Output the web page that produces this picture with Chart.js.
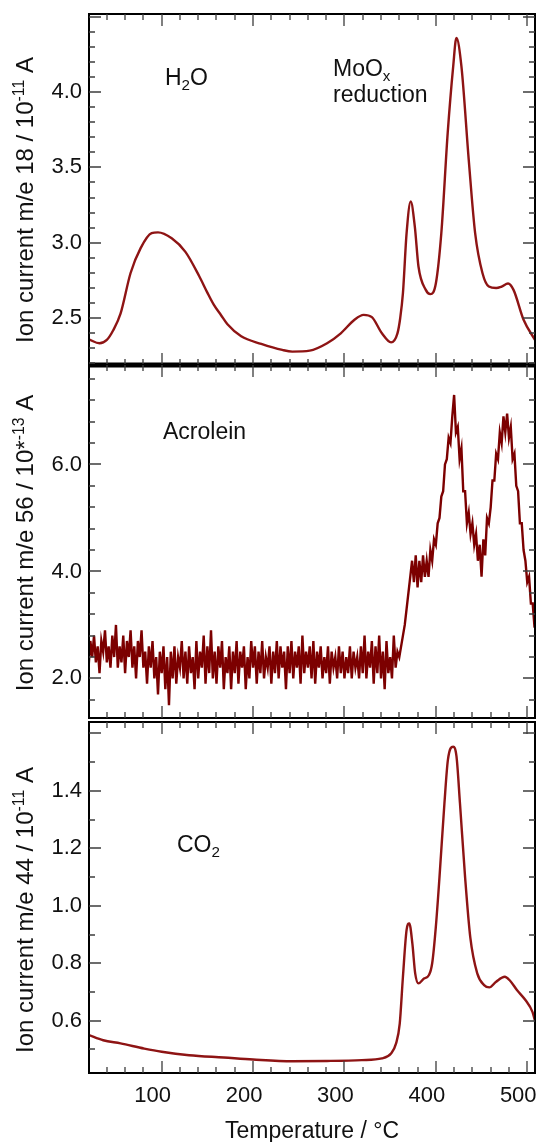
<!DOCTYPE html>
<html>
<head>
<meta charset="utf-8">
<script src="https://cdn.jsdelivr.net/npm/chart.js@4"></script>
<style>
  html, body { margin: 0; padding: 0; background: #fff; }
  #wrap { position: relative; width: 541px; height: 1142px; }
  canvas { position: absolute; left: 0; top: 0; }
</style>
</head>
<body>
<div id="wrap">
  <canvas id="c1" width="541" height="1142"></canvas>
  <canvas id="c2" width="541" height="1142"></canvas>
  <canvas id="c3" width="541" height="1142"></canvas>
</div>
<script>
// m/e 18 (H2O)
const h2oTemp = [20.5, 32, 40, 47, 55, 66, 77, 89, 96, 111, 126, 141, 150, 157, 165, 172, 187, 209, 232, 243, 262, 281,
  296, 311, 321, 330, 341, 351, 358, 361, 364, 368, 372.5, 377, 381, 389, 394, 400, 406, 413, 419, 422.5,
  428, 436, 443, 451, 458, 466, 472, 479, 485, 496, 508.5];
const h2oSignal = [2.36, 2.334, 2.356, 2.42, 2.53, 2.80, 2.965, 3.064, 3.069, 3.03, 2.94, 2.78, 2.67, 2.59, 2.52, 2.46, 2.38, 2.33, 2.29, 2.279, 2.285, 2.334,
  2.40, 2.49, 2.522, 2.507, 2.40, 2.34, 2.40, 2.50, 2.666, 3.064, 3.274, 3.108, 2.843, 2.688, 2.66, 2.73, 3.064, 3.73, 4.17, 4.358,
  4.17, 3.55, 3.064, 2.80, 2.71, 2.70, 2.71, 2.73, 2.688, 2.49, 2.356];

// m/e 56 (acrolein), one reading every 2 °C from 20 °C
const acroStart = 20;
const acroStep = 2;
const acroSignal = [
  2.2, 2.7, 2.4, 2.8, 2.3, 2.6, 2.1, 2.7, 2.5, 2.9,
  2.3, 2.6, 2.2, 2.8, 2.4, 3.0, 2.2, 2.6, 2.3, 2.8,
  2.1, 2.7, 2.4, 2.9, 2.2, 2.6, 2.0, 2.7, 2.4, 2.9,
  2.2, 2.5, 1.9, 2.6, 2.2, 2.7, 2.0, 2.4, 1.7, 2.5,
  2.1, 2.6, 1.8, 2.4, 1.5, 2.5, 2.0, 2.6, 1.9, 2.4,
  2.2, 2.7, 2.0, 2.5, 1.9, 2.6, 2.1, 2.4, 1.8, 2.7,
  2.0, 2.5, 2.2, 2.8, 1.9, 2.6, 2.1, 2.9, 2.0, 2.5,
  1.9, 2.6, 2.2, 2.7, 1.8, 2.4, 2.1, 2.6, 1.8, 2.5,
  2.1, 2.7, 1.9, 2.5, 2.2, 2.6, 1.8, 2.4, 2.0, 2.7,
  2.2, 2.6, 1.9, 2.5, 2.1, 2.7, 2.0, 2.4, 2.2, 2.6,
  1.9, 2.5, 2.1, 2.7, 2.0, 2.6, 2.2, 2.5, 1.8, 2.6,
  2.1, 2.7, 2.0, 2.5, 2.2, 2.6, 1.9, 2.8, 2.1, 2.5,
  2.2, 2.6, 2.0, 2.7, 1.9, 2.5, 2.2, 2.6, 2.0, 2.4,
  2.1, 2.6, 1.9, 2.5, 2.2, 2.4, 2.0, 2.6, 2.1, 2.5,
  2.0, 2.4, 2.1, 2.6, 2.0, 2.5, 2.2, 2.4, 2.0, 2.6,
  2.1, 2.8, 2.0, 2.5, 2.2, 2.7, 1.9, 2.6, 2.1, 2.8,
  2.0, 2.5, 1.8, 2.7, 2.1, 2.4, 2.0, 2.8, 2.2, 2.5,
  2.4, 2.6, 2.8, 3.0, 3.3, 3.6, 3.9, 4.2, 3.8, 4.3,
  3.7, 4.2, 3.8, 4.3, 3.9, 4.2, 3.9, 4.4, 4.2, 4.6,
  4.5, 4.9, 5.0, 5.4, 5.5, 6.0, 6.1, 6.5, 6.4, 6.9,
  7.3, 6.6, 6.7, 6.1, 6.3, 5.5, 5.5, 4.9, 5.1, 4.7,
  4.9, 4.5, 4.7, 4.2, 4.5, 3.9, 4.6, 4.3, 5.0, 4.9,
  5.2, 5.7, 5.7, 6.2, 6.1, 6.6, 6.4, 6.9, 6.6, 6.95,
  6.5, 6.7, 6.1, 6.2, 5.6, 5.5, 4.9, 4.9, 4.4, 4.2,
  3.8, 3.9, 3.4, 3.4, 2.95
];

// m/e 44 (CO2)
const co2Temp = [20.5, 36, 55, 81, 100, 130, 168, 200, 243, 281, 319, 341, 351, 356.5, 360.5, 364, 368, 371, 374.3, 377.4,
  381, 387, 392.5, 396, 400, 404, 409.4, 413.2, 419, 422.6, 426.4, 432, 437.7, 445.3, 452.8, 458.5, 466, 475.5, 481, 488.7,
  498, 505.7, 508.5];
const co2Signal = [0.550, 0.532, 0.521, 0.503, 0.492, 0.480, 0.472, 0.465, 0.459, 0.460, 0.463, 0.469, 0.486, 0.521, 0.59, 0.753, 0.916, 0.939, 0.869, 0.765,
  0.73, 0.747, 0.759, 0.80, 0.927, 1.10, 1.357, 1.508, 1.554, 1.52, 1.357, 1.10, 0.89, 0.765, 0.724, 0.716, 0.736, 0.753, 0.74, 0.707,
  0.672, 0.631, 0.60];

const FONT = '"Liberation Sans", Arial, Helvetica, sans-serif';

function drawRich(ctx, parts, x, y, size, align) {
  let total = 0;
  const items = parts.map(p => {
    const s = (p.sub || p.sup) ? size * 0.66 : size;
    ctx.font = s + 'px ' + FONT;
    const w = ctx.measureText(p.t).width;
    total += w;
    return { p, s, w };
  });
  let cx = align === 'center' ? x - total / 2 : x;
  ctx.textAlign = 'left';
  ctx.textBaseline = 'alphabetic';
  items.forEach(({ p, s, w }) => {
    ctx.font = s + 'px ' + FONT;
    let dy = 0;
    if (p.sub) dy = size * 0.22;
    if (p.sup) dy = -size * 0.36;
    ctx.fillText(p.t, cx, y + dy);
    cx += w;
  });
}

// frame, inward ticks and the text labels of each panel
const panelDecor = {
  id: 'panelDecor',
  afterDraw(chart) {
    const ctx = chart.ctx;
    const a = chart.chartArea;
    const xs = chart.scales.x, ys = chart.scales.y;
    const d = chart.config.options.decor;
    ctx.save();
    ctx.setLineDash([]);

    ctx.strokeStyle = '#000';
    ctx.lineWidth = 2;
    ctx.strokeRect(a.left, a.top, a.right - a.left, a.bottom - a.top);
    if (d.thickBottom) {
      ctx.lineWidth = 5;
      ctx.beginPath();
      ctx.moveTo(a.left - 1, a.bottom);
      ctx.lineTo(a.right + 1, a.bottom);
      ctx.stroke();
    }

    ctx.strokeStyle = '#3c3c3c';
    ctx.lineWidth = 1.3;
    ctx.beginPath();
    for (let v = 40; v <= 500; v += 20) {
      const px = Math.round(xs.getPixelForValue(v));
      const len = v % 100 === 0 ? 12 : 6;
      ctx.moveTo(px, a.top); ctx.lineTo(px, a.top + len);
      ctx.moveTo(px, a.bottom); ctx.lineTo(px, a.bottom - len);
    }
    const i0 = Math.ceil(d.yMin / d.minor - 1e-9);
    for (let i = i0; i * d.minor <= d.yMax + 1e-9; i++) {
      const v = i * d.minor;
      const r = v / d.major;
      const len = Math.abs(r - Math.round(r)) < 1e-6 ? 12 : 6;
      const py = Math.round(ys.getPixelForValue(v));
      ctx.moveTo(a.left, py); ctx.lineTo(a.left + len, py);
      ctx.moveTo(a.right, py); ctx.lineTo(a.right - len, py);
    }
    ctx.stroke();

    ctx.fillStyle = '#111';
    d.notes.forEach(n => drawRich(ctx, n.parts, n.x, n.y, 23, 'left'));

    ctx.save();
    ctx.translate(d.titleX, d.titleY);
    ctx.rotate(-Math.PI / 2);
    drawRich(ctx, d.yTitle, 0, 0, 24, 'center');
    ctx.restore();

    if (d.xTitle) {
      drawRich(ctx, [{ t: d.xTitle }], (a.left + a.right) / 2, 1138, 23, 'center');
    }
    ctx.restore();
  }
};

function makePanel(id, cfg) {
  return new Chart(document.getElementById(id), {
    type: 'line',
    data: {
      datasets: [{
        data: cfg.points,
        borderColor: cfg.color,
        borderWidth: cfg.width,
        pointRadius: 0,
        tension: cfg.smooth ? 0.4 : 0,
        cubicInterpolationMode: cfg.smooth ? 'monotone' : 'default',
        fill: false
      }]
    },
    options: {
      responsive: false,
      animation: false,
      devicePixelRatio: 1,
      decor: Object.assign({ yMin: cfg.yMin, yMax: cfg.yMax }, cfg.decor),
      layout: { padding: { left: 0, right: 6, top: cfg.top, bottom: cfg.bottom } },
      scales: {
        x: {
          type: 'linear',
          min: 20.5,
          max: 508.5,
          display: cfg.showX,
          grid: { display: false, drawTicks: false },
          border: { display: false },
          ticks: {
            stepSize: 100,
            includeBounds: false,
            padding: 10,
            labelOffset: -9,
            maxRotation: 0,
            color: '#111',
            font: { family: FONT, size: 22 }
          },
          afterFit: s => {
            s.height = cfg.showX ? 69 : 0;
            s.paddingLeft = 0;
            s.paddingRight = 0;
          }
        },
        y: {
          min: cfg.yMin,
          max: cfg.yMax,
          grid: { display: false, drawTicks: false },
          border: { display: false },
          ticks: {
            stepSize: cfg.yStep,
            includeBounds: false,
            padding: 7,
            color: '#111',
            font: { family: FONT, size: 22 },
            callback: v => (v > cfg.labelMax ? null : v.toFixed(1))
          },
          afterFit: s => { s.width = 89; s.paddingTop = 0; s.paddingBottom = 0; }
        }
      },
      plugins: {
        legend: { display: false },
        tooltip: { enabled: false }
      }
    },
    plugins: [panelDecor]
  });
}

const h2oPoints = h2oTemp.map((t, i) => ({ x: t, y: h2oSignal[i] }));
const acroPoints = acroSignal.map((v, i) => ({ x: acroStart + i * acroStep, y: v }));
const co2Points = co2Temp.map((t, i) => ({ x: t, y: co2Signal[i] }));

makePanel('c1', {
  points: h2oPoints, color: '#8e1414', width: 2.4, smooth: true,
  top: 14, bottom: 1142 - 365, showX: false,
  yMin: 2.19, yMax: 4.517, yStep: 0.5, labelMax: 4.2,
  decor: {
    minor: 0.1, major: 0.5, thickBottom: true,
    titleX: 33, titleY: 200,
    yTitle: [{ t: 'Ion current m/e 18 / 10' }, { t: '-11', sup: true }, { t: ' A' }],
    notes: [
      { x: 165, y: 85, parts: [{ t: 'H' }, { t: '2', sub: true }, { t: 'O' }] },
      { x: 333, y: 76, parts: [{ t: 'MoO' }, { t: 'x', sub: true }] },
      { x: 333, y: 102, parts: [{ t: 'reduction' }] }
    ]
  }
});

makePanel('c2', {
  points: acroPoints, color: '#7c0000', width: 2.4, smooth: false,
  top: 365, bottom: 1142 - 718, showX: false,
  yMin: 1.26, yMax: 7.86, yStep: 2, labelMax: 7,
  decor: {
    minor: 0.4, major: 2,
    titleX: 33, titleY: 543,
    yTitle: [{ t: 'Ion current m/e 56 / 10*' }, { t: '-13', sup: true }, { t: ' A' }],
    notes: [
      { x: 163, y: 439, parts: [{ t: 'Acrolein' }] }
    ]
  }
});

makePanel('c3', {
  points: co2Points, color: '#8e1414', width: 2.4, smooth: true,
  top: 722, bottom: 0, showX: true,
  yMin: 0.418, yMax: 1.64, yStep: 0.2, labelMax: 1.5,
  decor: {
    minor: 0.1, major: 0.2,
    titleX: 33, titleY: 910,
    yTitle: [{ t: 'Ion current m/e 44 / 10' }, { t: '-11', sup: true }, { t: ' A' }],
    xTitle: 'Temperature / °C',
    notes: [
      { x: 177, y: 852, parts: [{ t: 'CO' }, { t: '2', sub: true }] }
    ]
  }
});
</script>
</body>
</html>
